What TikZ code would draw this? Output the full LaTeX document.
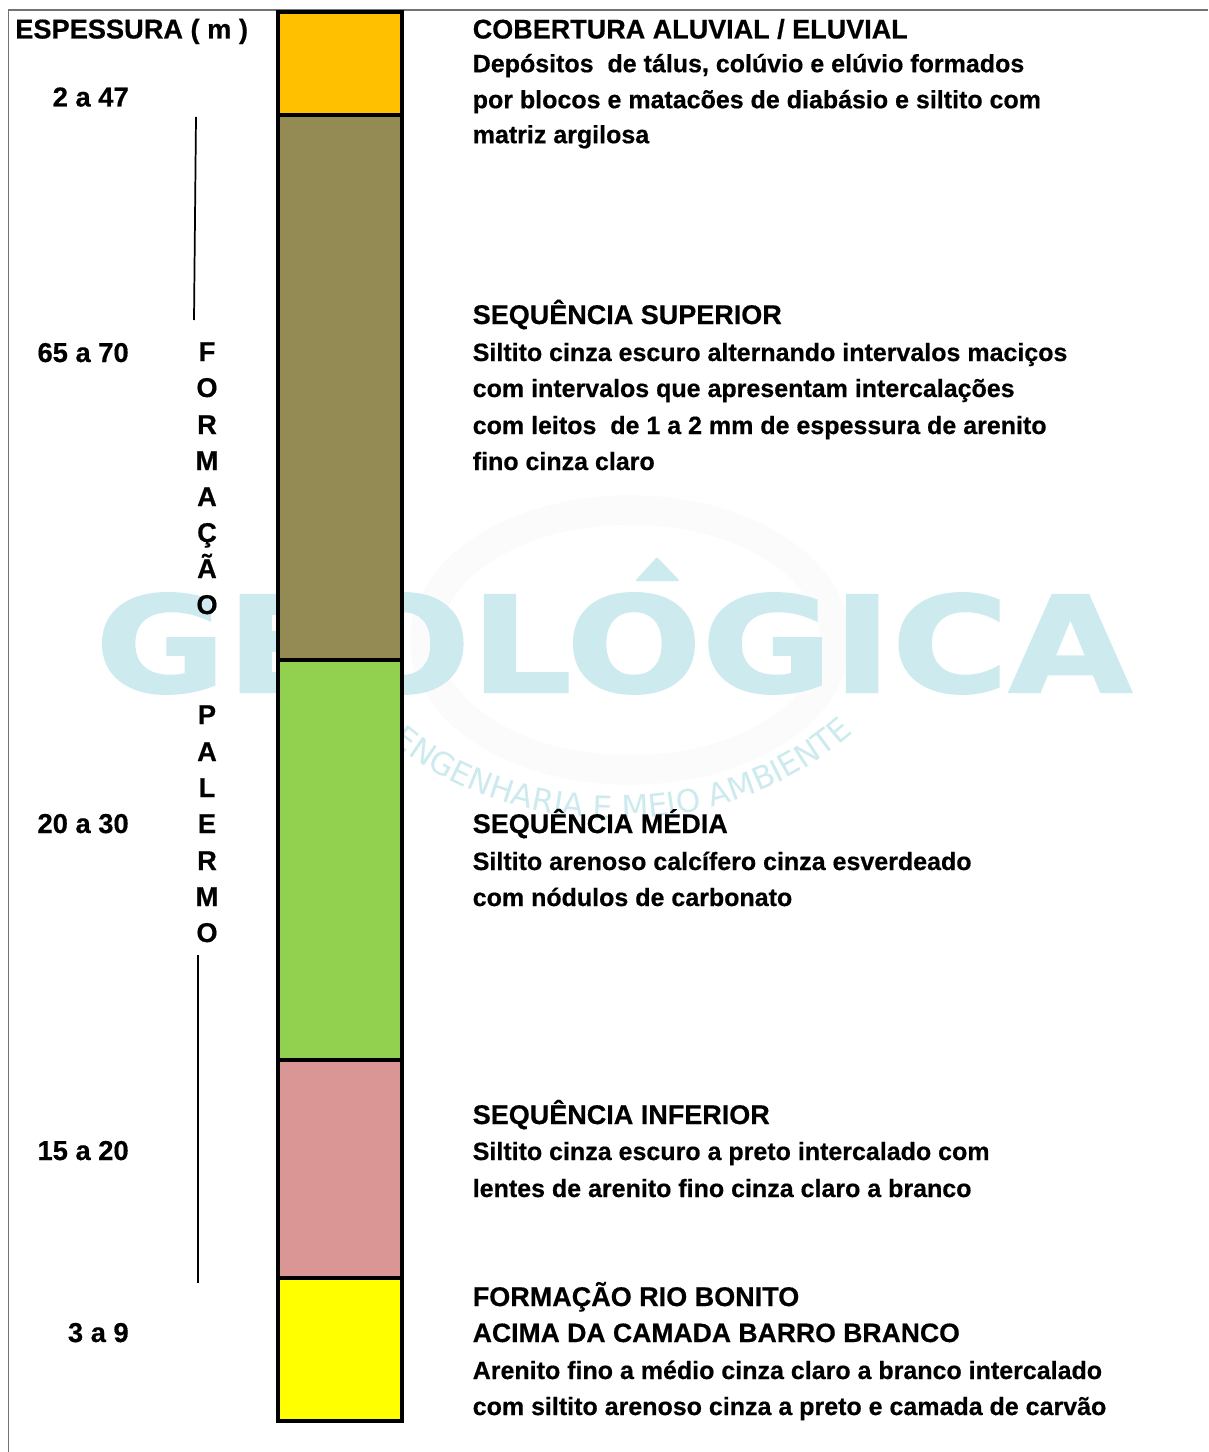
\documentclass[tikz,border=0pt]{standalone}
\usepackage{fontspec}
\usepackage{graphicx}
\setmainfont{Liberation Sans}[BoldFeatures={FakeBold=0.5}]
\newfontfamily\wmfont{DejaVu Sans}[BoldFeatures={FakeBold=1.5}]
\usetikzlibrary{decorations.text}
\definecolor{wm}{HTML}{CDEBEF}
\definecolor{ring}{HTML}{FBFBFB}
\tikzset{
  x=0.75pt,y=-0.75pt,
  layerbox/.style={draw=black,line width=2.4pt,inner sep=0pt,minimum width=93pt},
  bodytxt/.style={anchor=base west,inner sep=0pt,font=\fontsize{18.75}{19}\selectfont\bfseries},
  titletxt/.style={anchor=base west,inner sep=0pt,font=\fontsize{20.25}{20.3}\selectfont\bfseries},
  numtxt/.style={anchor=base east,inner sep=0pt,font=\fontsize{20.5}{20.5}\selectfont\bfseries},
  lettertxt/.style={anchor=base,inner sep=0pt,font=\fontsize{20.4}{20.4}\selectfont\bfseries},
  rule/.style={draw=black,line width=1.3pt},
  frameline/.style={draw=black!55,line width=0.8pt}
}
\begin{document}
\begin{tikzpicture}
\useasboundingbox (0,0) rectangle (1208,1452);
\fill[white] (0,0) rectangle (1208,1452);
% watermark
\draw[ring,line width=22pt] (630,640) ellipse (205 and 130);
\begin{scope}
\clip (0,591) rectangle (1208,720);
\node (wmtext) [anchor=base west,inner sep=0pt,text=wm] at (95,692)
  {\scalebox{1.195}[1]{\fontsize{100}{100}\selectfont\wmfont\bfseries GEOLÓGICA}};
\end{scope}
\coordinate (accA) at (657,557);
\coordinate (accB) at (680,581);
\coordinate (accC) at (635,581);
\fill[wm,rounded corners=1.5pt] (accA) -- (accB) -- (accC) -- cycle;
\coordinate (arcstart) at (352,700);
\coordinate (arcend) at (892,690);
\path[decorate,decoration={text along path,text color=wm,
   text={|\fontsize{23.5}{23.5}\selectfont\wmfont|ENGENHARIA E MEIO AMBIENTE},text align=center}]
   (arcstart) .. controls (470,855) and (760,865) .. (arcend);
% frame
\coordinate (frameA) at (8.5,1452);
\coordinate (frameB) at (8.5,10);
\coordinate (frameC) at (1208,10);
\draw[frameline] (frameA) -- (frameB) -- (frameC);
% column
\node (cob) [layerbox,fill={rgb,255:red,255;green,192;blue,0},minimum height=77.25pt] at (340,63.5) {};
\node (sup) [layerbox,fill={rgb,255:red,148;green,138;blue,84},minimum height=408.75pt] at (340,387.5) {};
\node (med) [layerbox,fill={rgb,255:red,146;green,208;blue,80},minimum height=300pt] at (340,860) {};
\node (inf) [layerbox,fill={rgb,255:red,217;green,150;blue,148},minimum height=163.5pt] at (340,1169) {};
\node (rio) [layerbox,fill={rgb,255:red,255;green,255;blue,0},minimum height=107.25pt] at (340,1349.5) {};
% left header and thickness
\node (esp) [titletxt,font=\fontsize{20.4}{20.4}\selectfont\bfseries] at (15,38.5) {ESPESSURA ( m )};
\node (n1) [numtxt] at (129,106.5) {2 a 47};
\node (n2) [numtxt] at (129,362) {65 a 70};
\node (n3) [numtxt] at (129,833) {20 a 30};
\node (n4) [numtxt] at (129,1160) {15 a 20};
\node (n5) [numtxt] at (129,1342) {3 a 9};
% vertical label
\node (f1) [lettertxt] at (207,361) {F};
\node (f2) [lettertxt] at (207,397) {O};
\node (f3) [lettertxt] at (207,434) {R};
\node (f4) [lettertxt] at (207,470) {M};
\node (f5) [lettertxt] at (207,506) {A};
\node (f6) [lettertxt] at (207,542) {Ç};
\node (f7) [lettertxt] at (207,578) {Ã};
\node (f8) [lettertxt] at (207,614) {O};
\node (p1) [lettertxt] at (207,724) {P};
\node (p2) [lettertxt] at (207,761) {A};
\node (p3) [lettertxt] at (207,797) {L};
\node (p4) [lettertxt] at (207,833) {E};
\node (p5) [lettertxt] at (207,870) {R};
\node (p6) [lettertxt] at (207,906) {M};
\node (p7) [lettertxt] at (207,942) {O};
\coordinate (ruleAa) at (196,117);
\coordinate (ruleAb) at (194,320);
\coordinate (ruleBa) at (198,955);
\coordinate (ruleBb) at (198,1283);
\draw[rule] (ruleAa) -- (ruleAb);
\draw[rule] (ruleBa) -- (ruleBb);
% right texts
\node (t1) [titletxt] at (472.5,38.5) {COBERTURA ALUVIAL / ELUVIAL};
\node (t1a) [bodytxt] at (472.5,72.2) {Depósitos\ \ de tálus, colúvio e elúvio formados};
\node (t1b) [bodytxt] at (472.5,108.2) {por blocos e matacões de diabásio e siltito com};
\node (t1c) [bodytxt] at (472.5,143.2) {matriz argilosa};
\node (t2) [titletxt] at (472.5,324) {SEQUÊNCIA SUPERIOR};
\node (t2a) [bodytxt] at (472.5,361) {Siltito cinza escuro alternando intervalos maciços};
\node (t2b) [bodytxt] at (472.5,397) {com intervalos que apresentam intercalações};
\node (t2c) [bodytxt] at (472.5,434) {com leitos\ \ de 1 a 2 mm de espessura de arenito};
\node (t2d) [bodytxt] at (472.5,470) {fino cinza claro};
\node (t3) [titletxt] at (472.5,833) {SEQUÊNCIA MÉDIA};
\node (t3a) [bodytxt] at (472.5,870) {Siltito arenoso calcífero cinza esverdeado};
\node (t3b) [bodytxt] at (472.5,906) {com nódulos de carbonato};
\node (t4) [titletxt] at (472.5,1124) {SEQUÊNCIA INFERIOR};
\node (t4a) [bodytxt] at (472.5,1160) {Siltito cinza escuro a preto intercalado com};
\node (t4b) [bodytxt] at (472.5,1197) {lentes de arenito fino cinza claro a branco};
\node (t5) [titletxt] at (472.5,1306) {FORMAÇÃO RIO BONITO};
\node (t5a) [titletxt,font=\fontsize{19.93}{20}\selectfont\bfseries] at (472.5,1342) {ACIMA DA CAMADA BARRO BRANCO};
\node (t5b) [bodytxt] at (472.5,1379) {Arenito fino a médio cinza claro a branco intercalado};
\node (t5c) [bodytxt] at (472.5,1415) {com siltito arenoso cinza a preto e camada de carvão};
\end{tikzpicture}
\end{document}
